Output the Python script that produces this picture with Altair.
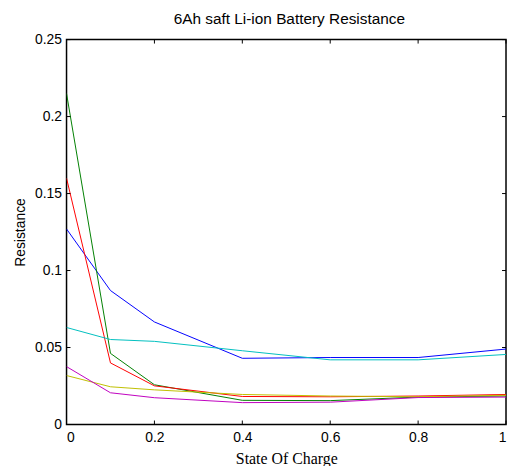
import altair as alt
import pandas as pd

soc = [0, 0.1, 0.2, 0.4, 0.6, 0.8, 1.0]
blue = [0.127, 0.087, 0.0666, 0.043, 0.0435, 0.0435, 0.049]
green = [0.215, 0.0462, 0.0258, 0.0157, 0.0155, 0.0178, 0.0185]
red = [0.160, 0.040, 0.0251, 0.0182, 0.018, 0.0185, 0.0195]
cyan = [0.063, 0.0552, 0.054, 0.0479, 0.042, 0.042, 0.0455]
yellow = [0.0318, 0.0245, 0.0225, 0.0195, 0.0185, 0.018, 0.019]
magenta = [0.0376, 0.0206, 0.0174, 0.0142, 0.0145, 0.0175, 0.0178]

series = {"blue": blue, "green": green, "red": red, "cyan": cyan,
          "yellow": yellow, "magenta": magenta}
colors = ["#0000FF", "#008000", "#FF0000", "#00BFBF", "#BFBF00", "#BF00BF"]

x_ticks = [0, 0.2, 0.4, 0.6, 0.8, 1.0]
y_ticks = [0, 0.05, 0.1, 0.15, 0.2, 0.25]

rows = []
for name, vals in series.items():
    for s, v in zip(soc, vals):
        rows.append({"series": name, "soc": s, "res": v})
df = pd.DataFrame(rows)

W, H = 443, 388

xscale = alt.Scale(domain=[0, 1], nice=False, zero=False)
yscale = alt.Scale(domain=[0, 0.25], nice=False, zero=False)

lines = alt.Chart(df).mark_line(strokeWidth=1, clip=True).encode(
    x=alt.X("soc:Q", scale=xscale, title="State Of Charge",
            axis=alt.Axis(values=x_ticks, ticks=False, domain=False, grid=False,
                          labelFont="Liberation Sans", labelFontSize=14,
                          labelColor="black", labelPadding=6,
                          labelExpr="datum.value == 0 ? '0' : format(datum.value, '.1~f')",
                          titleFont="Liberation Serif", titleFontSize=16,
                          titleFontWeight="normal", titleColor="black",
                          titlePadding=6)),
    y=alt.Y("res:Q", scale=yscale, title="Resistance",
            axis=alt.Axis(values=y_ticks, ticks=False, domain=False, grid=False,
                          labelFont="Liberation Sans", labelFontSize=14,
                          labelColor="black", labelPadding=5,
                          labelExpr="datum.value == 0 ? '0' : format(datum.value, '.2~f')",
                          titleFont="Liberation Sans", titleFontSize=14,
                          titleFontWeight="normal", titleColor="black",
                          titlePadding=7)),
    color=alt.Color("series:N", sort=list(series.keys()),
                    scale=alt.Scale(domain=list(series.keys()), range=colors),
                    legend=None),
    detail="series:N",
)

xt = pd.DataFrame({"t": x_ticks})
yt = pd.DataFrame({"t": y_ticks})

xtick_b = alt.Chart(xt).mark_rule(color="black", strokeWidth=1).encode(
    x=alt.X("t:Q", scale=xscale), y=alt.value(H), y2=alt.value(H - 4))
xtick_t = alt.Chart(xt).mark_rule(color="black", strokeWidth=1).encode(
    x=alt.X("t:Q", scale=xscale), y=alt.value(0), y2=alt.value(4))
ytick_l = alt.Chart(yt).mark_rule(color="black", strokeWidth=1).encode(
    y=alt.Y("t:Q", scale=yscale), x=alt.value(0), x2=alt.value(4))
ytick_r = alt.Chart(yt).mark_rule(color="black", strokeWidth=1).encode(
    y=alt.Y("t:Q", scale=yscale), x=alt.value(W), x2=alt.value(W - 4))

chart = alt.layer(lines, xtick_b, xtick_t, ytick_l, ytick_r).properties(
    width=W, height=H,
    title=alt.TitleParams("6Ah saft Li-ion Battery Resistance",
                          font="Liberation Sans", fontSize=15.5,
                          fontWeight="normal", color="black", offset=5,
                          anchor="start", frame="group", dx=108),
    autosize=alt.AutoSizeParams(type="none"),
    padding={"left": 59, "top": 30, "right": 1, "bottom": 40},
    background="white",
).configure_view(stroke="black", strokeWidth=1.5)

chart.save("out.html", embed_options={"renderer": "svg", "actions": False})
